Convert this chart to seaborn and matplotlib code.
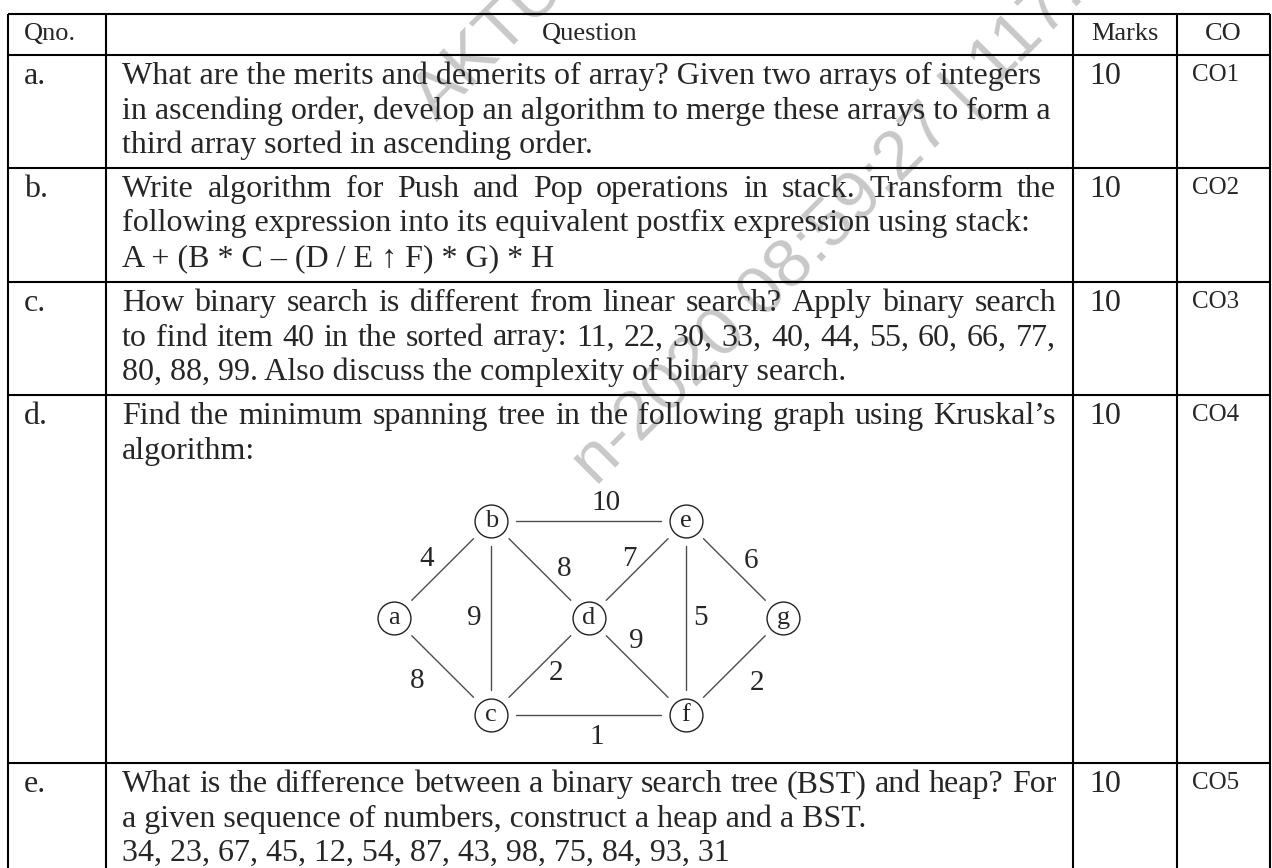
import matplotlib
matplotlib.use("Agg")
import numpy as np
import pandas as pd
import matplotlib.pyplot as plt
import seaborn as sns

# ---- table content ----
header = ["Qno.", "Question", "Marks", "CO"]
qno = ["a.", "b.", "c.", "d.", "e."]
marks = ["10", "10", "10", "10", "10"]
course_outcomes = ["CO1", "CO2", "CO3", "CO4", "CO5"]

# each question is a list of paragraphs, each paragraph a list of lines
question_a = [[
    "What are the merits and demerits of array? Given two arrays of integers",
    "in ascending order, develop an algorithm to merge these arrays to form a",
    "third array sorted in ascending order.",
]]
question_b = [
    ["Write algorithm for Push and Pop operations in stack. Transform the",
     "following expression into its equivalent postfix expression using stack:"],
    ["A + (B * C \u2013 (D / E \u2191 F) * G) * H"],
]
question_c = [[
    "How binary search is different from linear search? Apply binary search",
    "to find item 40 in the sorted array: 11, 22, 30, 33, 40, 44, 55, 60, 66, 77,",
    "80, 88, 99. Also discuss the complexity of binary search.",
]]
question_d = [[
    "Find the minimum spanning tree in the following graph using Kruskal\u2019s",
    "algorithm:",
]]
question_e = [
    ["What is the difference between a binary search tree (BST) and heap? For",
     "a given sequence of numbers, construct a heap and a BST."],
    ["34, 23, 67, 45, 12, 54, 87, 43, 98, 75, 84, 93, 31"],
]
questions = [question_a, question_b, question_c, question_d, question_e]
justified = [False, True, True, True, True]

# ---- graph for question d ----
nodes = ["a", "b", "c", "d", "e", "f", "g"]
node_col = [0, 1, 1, 2, 3, 3, 4]
node_row = [1, 0, 2, 1, 0, 2, 1]
edge_from = ["a", "a", "b", "b", "b", "c", "c", "d", "d", "e", "e", "f"]
edge_to = ["b", "c", "c", "d", "e", "d", "f", "e", "f", "f", "g", "g"]
weights = [4, 8, 9, 8, 10, 2, 1, 7, 9, 5, 6, 2]
# label offsets from edge midpoints (pixels, y down)
label_dx = [-16, -25, -17, 24, 17, 16, 8, -8, -1, 15, 17, 23]
label_dy = [-10, 15, 0, 0, -18, 7, 22, -10, -26, 0, -8, 16]

watermark_1 = "AKTU-"
watermark_2 = "n-2020 08:59:27 | 117.2"

# ---- layout (pixels) ----
W, H = 1272, 868
COL_X = [8, 106, 1073, 1177, 1270]
ROW_Y = [14, 55, 168, 282, 395, 763]
TEXT_X = 122
RIGHT_X = 1056
LINE_H = 34.5
FIRST_BASE = 29
BODY_FS = 23
HEAD_FS = 19
CO_FS = 18
SERIF = ["Liberation Serif", "DejaVu Serif"]

sns.set_theme(style="white")
plt.rcParams["font.family"] = SERIF

fig = plt.figure(figsize=(W / 100, H / 100), dpi=100)
ax = fig.add_axes([0, 0, 1, 1])
ax.set_xlim(0, W)
ax.set_ylim(H, 0)
ax.axis("off")
renderer = fig.canvas.get_renderer()

# grid lines of the table
ax.hlines(ROW_Y, COL_X[0], COL_X[-1], color="black", lw=1.5, zorder=4)
ax.vlines(COL_X, ROW_Y[0], H + 5, color="black", lw=1.5, zorder=4)

# header
hb = ROW_Y[0] + 26
ax.text(24, hb, header[0], fontsize=HEAD_FS, va="baseline", ha="left", zorder=3)
ax.text((COL_X[1] + COL_X[2]) / 2, hb, header[1], fontsize=HEAD_FS, va="baseline", ha="center", zorder=3)
ax.text((COL_X[2] + COL_X[3]) / 2, hb, header[2], fontsize=HEAD_FS, va="baseline", ha="center", zorder=3)
ax.text((COL_X[3] + COL_X[4]) / 2, hb, header[3], fontsize=HEAD_FS, va="baseline", ha="center", zorder=3)


def put_line(line, y, justify):
    if not justify:
        ax.text(TEXT_X, y, line, fontsize=BODY_FS, va="baseline", ha="left", zorder=3)
        return
    words = line.split(" ")
    arts = [ax.text(0, y, w, fontsize=BODY_FS, va="baseline", ha="left", zorder=3) for w in words]
    widths = [a.get_window_extent(renderer).width for a in arts]
    gap = (RIGHT_X - TEXT_X - sum(widths)) / (len(words) - 1)
    x = TEXT_X
    for a, w in zip(arts, widths):
        a.set_x(x)
        x += w + gap


for i, paras in enumerate(questions):
    top = ROW_Y[i + 1]
    base = top + FIRST_BASE
    ax.text(24, base, qno[i], fontsize=BODY_FS, va="baseline", zorder=3)
    ax.text(1089, base, marks[i], fontsize=BODY_FS, va="baseline", zorder=3)
    ax.text(1192, top + 26, course_outcomes[i], fontsize=CO_FS, va="baseline", zorder=3)
    k = 0
    for para in paras:
        for j, line in enumerate(para):
            last = j == len(para) - 1
            put_line(line, base + k * LINE_H, justified[i] and not last)
            k += 1

# watermark
ax.text(437, 122, watermark_1, rotation=45, rotation_mode="anchor", ha="left",
        va="baseline", fontsize=50, color="#c8c8c8", family="Liberation Sans", zorder=1)
ax.text(596, 487, watermark_2, rotation=45, rotation_mode="anchor", ha="left",
        va="baseline", fontsize=50, color="#c8c8c8", family="Liberation Sans", zorder=1)

# ---- graph axes ----
UNIT_X, UNIT_Y = 97.25, 97.0
gx0, gy0 = 394 - 0.5 * UNIT_X, 521 - 0.5 * UNIT_Y
gw, gh = 5 * UNIT_X, 3 * UNIT_Y
gax = fig.add_axes([gx0 / W, 1 - (gy0 + gh) / H, gw / W, gh / H])
gax.patch.set_alpha(0)

pos = {n: (c, r) for n, c, r in zip(nodes, node_col, node_row)}
shrink = 25 / UNIT_Y
rows = []
for k, (u, v) in enumerate(zip(edge_from, edge_to)):
    p, q = np.array(pos[u], float), np.array(pos[v], float)
    d = (q - p) / np.linalg.norm(q - p)
    p1, q1 = p + d * shrink, q - d * shrink
    rows.append({"edge": k, "x": p1[0], "y": p1[1]})
    rows.append({"edge": k, "x": q1[0], "y": q1[1]})
edges_df = pd.DataFrame(rows)
nodes_df = pd.DataFrame({"node": nodes, "col": node_col, "row": node_row})

sns.lineplot(data=edges_df, x="x", y="y", units="edge", estimator=None, sort=False,
             color="#4d4d4d", linewidth=1.0, ax=gax, legend=False)
sns.scatterplot(data=nodes_df, x="col", y="row", s=560, color="white",
                edgecolor="#222222", linewidth=1.0, ax=gax, legend=False, zorder=3)
for n, c, r in zip(nodes, node_col, node_row):
    gax.text(c, r, n, fontsize=19, ha="center", va="center", zorder=4)
for k, (u, v) in enumerate(zip(edge_from, edge_to)):
    mx = (pos[u][0] + pos[v][0]) / 2 + label_dx[k] / UNIT_X
    my = (pos[u][1] + pos[v][1]) / 2 + label_dy[k] / UNIT_Y
    gax.text(mx, my, str(weights[k]), fontsize=21, ha="center", va="center", zorder=4)

gax.set_xlim(-0.5, 4.5)
gax.set_ylim(2.5, -0.5)
gax.axis("off")

fig.savefig("out.png", dpi=100, facecolor="white")
